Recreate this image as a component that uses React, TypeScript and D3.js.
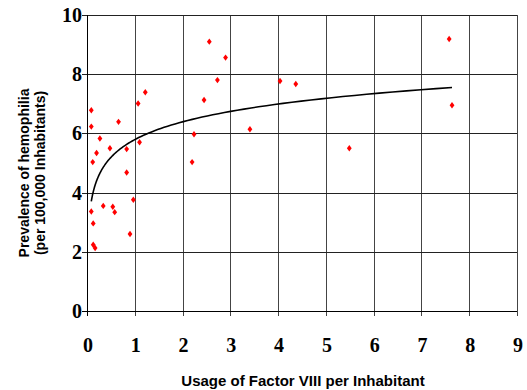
import { useEffect, useRef } from "react";
import * as d3 from "d3";

// usage of factor VIII per inhabitant
const usage = [
  0.09, 0.09, 0.27, 0.2, 0.12, 0.48, 0.66, 0.83, 0.83, 1.07, 1.1, 1.22,
  2.24, 2.2, 0.09, 0.13, 0.13, 0.17, 0.34, 0.54, 0.58, 0.97, 0.9,
  2.56, 2.9, 2.73, 2.45, 4.04, 4.37, 5.49, 3.41, 7.58, 7.64,
];
// prevalence per 100,000 inhabitants
const prevalence = [
  6.78, 6.23, 5.83, 5.34, 5.03, 5.5, 6.39, 5.47, 4.68, 7.01, 5.7, 7.39,
  5.97, 5.03, 3.36, 2.96, 2.24, 2.13, 3.55, 3.52, 3.34, 3.76, 2.6,
  9.1, 8.56, 7.8, 7.13, 7.77, 7.67, 5.5, 6.14, 9.19, 6.95,
];
const xTicks = [0, 1, 2, 3, 4, 5, 6, 7, 8, 9];
const yTicks = [0, 2, 4, 6, 8, 10];

const W = 527;
const H = 390;
const margin = { left: 87, right: 10, top: 15, bottom: 79 };

export default function App() {
  const svgRef = useRef<SVGSVGElement>(null);

  useEffect(() => {
    const svg = d3.select(svgRef.current);
    svg.selectAll("*").remove();

    const x = d3.scaleLinear().domain([0, 9]).range([margin.left, W - margin.right]);
    const y = d3.scaleLinear().domain([0, 10]).range([H - margin.bottom, margin.top]);

    const serif = "'Liberation Serif', 'Times New Roman', serif";
    const sans = "'Liberation Sans', Arial, sans-serif";

    // grid
    svg.append("g")
      .selectAll("line")
      .data(xTicks.slice(1))
      .join("line")
      .attr("x1", d => Math.round(x(d)) + 0.5)
      .attr("x2", d => Math.round(x(d)) + 0.5)
      .attr("y1", y(10))
      .attr("y2", y(0) + 5)
      .attr("stroke", "#444")
      .attr("stroke-width", 1);

    svg.append("g")
      .selectAll("line")
      .data(yTicks.slice(1))
      .join("line")
      .attr("x1", x(0) - 5)
      .attr("x2", x(9))
      .attr("y1", d => Math.round(y(d)) + 0.5)
      .attr("y2", d => Math.round(y(d)) + 0.5)
      .attr("stroke", "#222")
      .attr("stroke-width", 1);

    // axes
    svg.append("line")
      .attr("x1", x(0) - 5).attr("x2", x(9))
      .attr("y1", Math.round(y(0)) + 0.5).attr("y2", Math.round(y(0)) + 0.5)
      .attr("stroke", "#000");
    svg.append("line")
      .attr("x1", Math.round(x(0)) + 0.5).attr("x2", Math.round(x(0)) + 0.5)
      .attr("y1", y(10)).attr("y2", y(0) + 5)
      .attr("stroke", "#000");

    // tick labels
    svg.append("g")
      .selectAll("text")
      .data(xTicks)
      .join("text")
      .attr("x", d => x(d) + 1)
      .attr("y", y(0) + 41)
      .attr("text-anchor", "middle")
      .attr("font-family", serif)
      .attr("font-weight", "bold")
      .attr("font-size", 20)
      .text(d => d);

    svg.append("g")
      .selectAll("text")
      .data(yTicks)
      .join("text")
      .attr("x", x(0) - 5)
      .attr("y", d => y(d) + 7)
      .attr("text-anchor", "end")
      .attr("font-family", serif)
      .attr("font-weight", "bold")
      .attr("font-size", 20)
      .text(d => d);

    // logarithmic trendline fitted to the points
    const lx = usage.map(Math.log);
    const mx = d3.mean(lx)!;
    const my = d3.mean(prevalence)!;
    const a = d3.sum(lx, (v, i) => (v - mx) * (prevalence[i] - my)) / d3.sum(lx, v => (v - mx) ** 2);
    const b = my - a * mx;
    const [x0, x1] = d3.extent(usage) as [number, number];
    const curve = d3.range(0, 101).map(i => {
      const t = x0 * Math.pow(x1 / x0, i / 100);
      return [t, a * Math.log(t) + b] as [number, number];
    });
    svg.append("path")
      .attr("d", d3.line().x(d => x(d[0])).y(d => y(d[1]))(curve))
      .attr("fill", "none")
      .attr("stroke", "#000")
      .attr("stroke-width", 1.6);

    // points
    const diamond = "M0,-3.2L2.4,0L0,3.2L-2.4,0Z";
    svg.append("g")
      .selectAll("path")
      .data(usage.map((u, i) => [u, prevalence[i]]))
      .join("path")
      .attr("transform", d => `translate(${x(d[0])},${y(d[1])})`)
      .attr("d", diamond)
      .attr("fill", "#ff0000");

    // axis titles
    svg.append("text")
      .attr("x", 303)
      .attr("y", 386)
      .attr("text-anchor", "middle")
      .attr("font-family", sans)
      .attr("font-weight", "bold")
      .attr("font-size", 15)
      .text("Usage of Factor VIII per Inhabitant");

    const yt = svg.append("text")
      .attr("transform", "translate(29,173) rotate(-90)")
      .attr("text-anchor", "middle")
      .attr("font-family", sans)
      .attr("font-weight", "bold")
      .attr("font-size", 14);
    yt.append("tspan").attr("x", 0).attr("y", 0).text("Prevalence of hemophilia");
    yt.append("tspan").attr("x", 0).attr("y", 16).text("(per 100,000 Inhabitants)");
  }, []);

  return (
    <svg
      ref={svgRef}
      width={W}
      height={H}
      style={{ position: "absolute", left: 0, top: 0, background: "#fff" }}
    />
  );
}
